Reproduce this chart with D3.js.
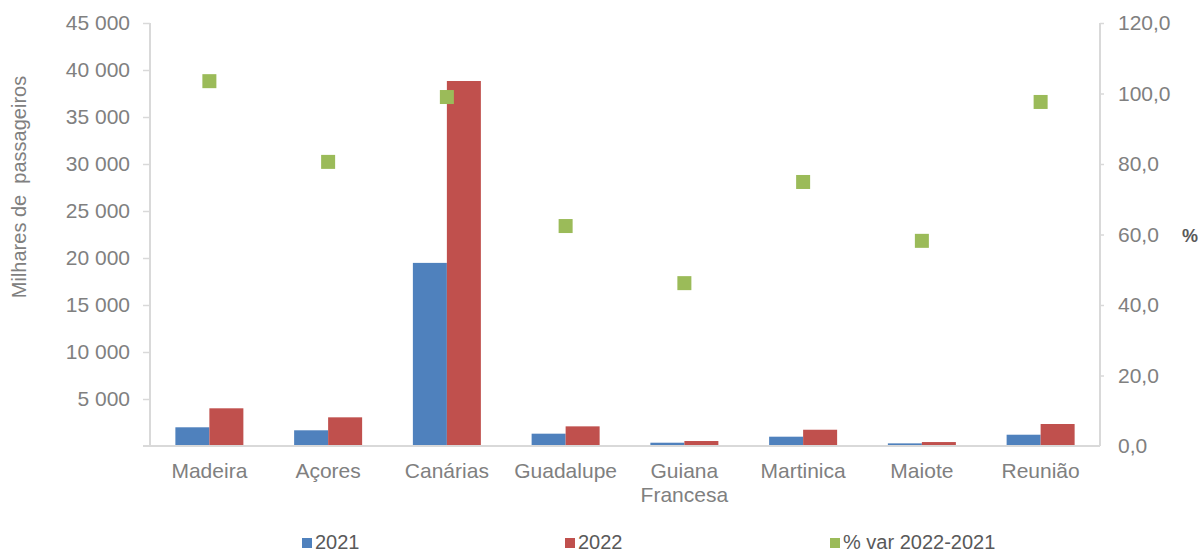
<!DOCTYPE html>
<html><head><meta charset="utf-8">
<script src="https://cdn.jsdelivr.net/npm/d3@7"></script>
<style>body{margin:0;background:#fff}svg{display:block;font-family:"Liberation Sans",Arial,sans-serif}</style>
</head><body><svg id="c" width="1203" height="553"></svg>
<script>
const categories = ["Madeira","Açores","Canárias","Guadalupe","Guiana Francesa","Martinica","Maiote","Reunião"];
const values2021 = [1990, 1670, 19480, 1310, 350, 990, 280, 1200];
const values2022 = [4010, 3050, 38830, 2090, 530, 1730, 420, 2340];
const pctVar = [103.5, 80.6, 99.0, 62.4, 46.2, 74.9, 58.2, 97.6];
const leftTicks = [5000,10000,15000,20000,25000,30000,35000,40000,45000];
const rightTicks = [0,20,40,60,80,100,120];
const seriesNames = ["2021","2022","% var 2022-2021"];
const colors = ["#4F81BD","#C0504D","#9BBB59"];

const svg = d3.select("#c");
const L = 150, R = 1100, T = 23, B = 446;
const x = d3.scaleBand().domain(categories).range([L,R]);
const xi = d3.scaleBand().domain([0,1]).range([0,68]);
const y = d3.scaleLinear().domain([0,45000]).range([B,T]);
const y2 = d3.scaleLinear().domain([0,120]).range([B,T]);
const fmt = v => d3.format(",")(v).replace(/,/g," ");
const fmt2 = v => d3.format(".1f")(v).replace(".",",");
const gray = "#808080", lineC = "#d9d9d9";

const ga = svg.append("g").attr("transform",`translate(${L},0)`)
  .call(d3.axisLeft(y).tickValues(leftTicks).tickFormat(fmt).tickSize(7).tickPadding(13));
const gr = svg.append("g").attr("transform",`translate(${R},0)`)
  .call(d3.axisRight(y2).tickValues(rightTicks).tickFormat(fmt2).tickSize(4).tickPadding(14));
[ga,gr].forEach(g=>{
  g.select(".domain").attr("stroke",lineC).attr("stroke-width",2).attr("d",`M0,${T}V${B}`);
  g.selectAll(".tick line").attr("stroke",lineC).attr("stroke-width",1.5);
  g.selectAll(".tick text").attr("fill",gray).style("font-size","21px").attr("font-family","Liberation Sans, Arial, sans-serif");
});
gr.selectAll(".tick").filter(d=>d===0).select("line").remove();

const groups = svg.append("g").selectAll("g").data(categories).join("g")
  .attr("transform",d=>`translate(${x(d)+x.bandwidth()/2-34},0)`);
[values2021, values2022].forEach((vals,si)=>{
  groups.append("rect")
    .attr("x",xi(si)).attr("width",xi.bandwidth())
    .attr("y",(d,i)=>y(vals[i])).attr("height",(d,i)=>B-y(vals[i]))
    .attr("fill",colors[si]);
});

svg.append("line").attr("x1",143).attr("x2",R).attr("y1",B).attr("y2",B).attr("stroke",lineC).attr("stroke-width",2);

svg.append("g").selectAll("text").data(categories).join("text")
  .attr("x",d=>x(d)+x.bandwidth()/2).attr("y",478)
  .attr("text-anchor","middle").attr("fill",gray).style("font-size","21px")
  .each(function(d){
    const parts = d==="Guiana Francesa" ? ["Guiana","Francesa"] : [d];
    parts.forEach((p,k)=>d3.select(this).append("tspan").attr("x",x(d)+x.bandwidth()/2).attr("dy",k?24:0).text(p));
  });

svg.append("g").selectAll("rect").data(categories).join("rect")
  .attr("x",d=>x(d)+x.bandwidth()/2-7).attr("y",(d,i)=>y2(pctVar[i])-7)
  .attr("width",14).attr("height",14).attr("fill",colors[2]);

svg.append("text").attr("transform","translate(26,187) rotate(-90)")
  .attr("text-anchor","middle").attr("fill",gray).style("font-size","20px")
  .style("white-space","pre").attr("xml:space","preserve").text("Milhares de  passageiros");
svg.append("text").attr("x",1182).attr("y",242).attr("fill","#595959")
  .style("font-size","18px").attr("font-weight","bold").text("%");

const legX = [302, 565, 830];
const lg = svg.append("g").selectAll("g").data(seriesNames).join("g")
  .attr("transform",(d,i)=>`translate(${legX[i]},0)`);
lg.append("rect").attr("x",0).attr("y",538).attr("width",10).attr("height",10).attr("fill",(d,i)=>colors[i]);
lg.append("text").attr("x",13).attr("y",549).attr("fill","#595959").style("font-size","20px").text(d=>d);
</script></body></html>
